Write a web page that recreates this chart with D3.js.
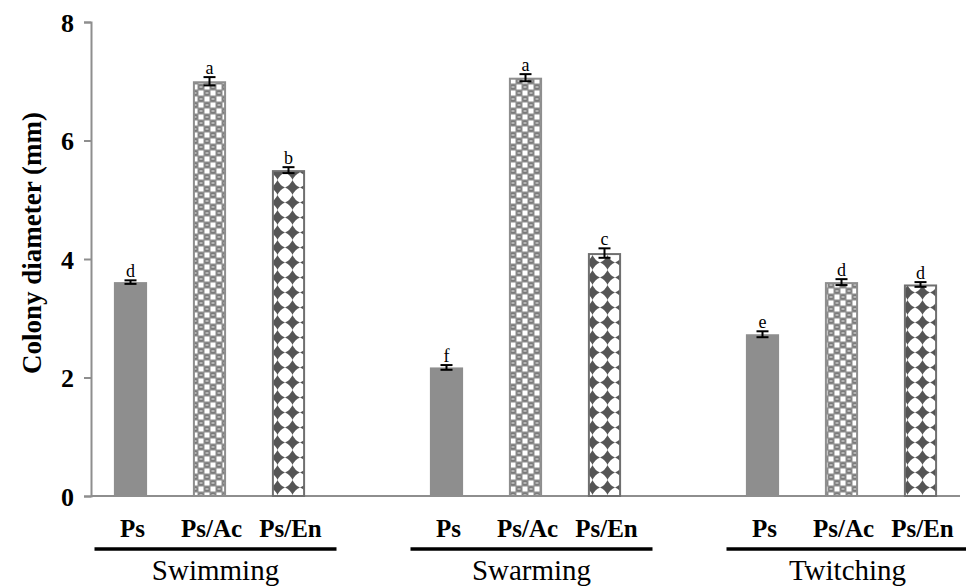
<html>
<head>
<script src="https://d3js.org/d3.v7.min.js"></script>
<style>
  body { margin: 0; background: #fff; }
  text { font-family: "Liberation Serif", "Times New Roman", serif; }
</style>
</head>
<body>
<svg id="chart" width="966" height="587"></svg>
<script>
// data
const groups = ["Swimming", "Swarming", "Twitching"];
const treatments = ["Ps", "Ps/Ac", "Ps/En"];
const means = [
  [3.61, 7.00, 5.50],
  [2.17, 7.06, 4.10],
  [2.73, 3.61, 3.57]
];
const errors = [
  [0.03, 0.07, 0.05],
  [0.04, 0.06, 0.08],
  [0.05, 0.05, 0.04]
];
const letters = [
  ["d", "a", "b"],
  ["f", "a", "c"],
  ["e", "d", "d"]
];
const yTicks = [0, 2, 4, 6, 8];

const svg = d3.select("svg#chart");
const margin = { top: 22, left: 91, right: 6, bottom: 91 };
const width = +svg.attr("width");
const height = +svg.attr("height");

// slots: 3 bars per group plus an empty slot between groups
let slots = [];
groups.forEach((g, gi) => {
  treatments.forEach(t => slots.push(g + "|" + t));
  if (gi < groups.length - 1) slots.push("gap" + gi);
});

const x = d3.scaleBand()
  .domain(slots)
  .range([margin.left, width - margin.right])
  .paddingInner(0.58)
  .paddingOuter(0.29);

const y = d3.scaleLinear()
  .domain([0, 8])
  .range([height - margin.bottom, margin.top]);

// patterns
const defs = svg.append("defs");

const pAc = defs.append("pattern")
  .attr("id", "pat-ac")
  .attr("patternUnits", "userSpaceOnUse")
  .attr("width", 12).attr("height", 12);
pAc.append("rect").attr("width", 12).attr("height", 12).attr("fill", "#8e8e8e");
pAc.append("rect").attr("x", 0.5).attr("y", 0.5).attr("width", 5).attr("height", 5).attr("fill", "#fff");
pAc.append("rect").attr("x", 6.5).attr("y", 6.5).attr("width", 5).attr("height", 5).attr("fill", "#fff");
pAc.append("circle").attr("cx", 9).attr("cy", 3).attr("r", 2.6).attr("fill", "#7a7a7a");
pAc.append("circle").attr("cx", 3).attr("cy", 9).attr("r", 2.6).attr("fill", "#7a7a7a");
pAc.append("rect").attr("x", 7.5).attr("y", 2.5).attr("width", 3).attr("height", 1).attr("fill", "#eee");
pAc.append("rect").attr("x", 1.5).attr("y", 8.5).attr("width", 3).attr("height", 1).attr("fill", "#eee");

const pEn = defs.append("pattern")
  .attr("id", "pat-en")
  .attr("patternUnits", "userSpaceOnUse")
  .attr("width", 15).attr("height", 15);
pEn.append("rect").attr("width", 15).attr("height", 15).attr("fill", "#fff");
const star = (cx, cy, r) => {
  const k = r * 0.3;
  return `M${cx},${cy - r} Q${cx + k},${cy - k} ${cx + r},${cy} Q${cx + k},${cy + k} ${cx},${cy + r} Q${cx - k},${cy + k} ${cx - r},${cy} Q${cx - k},${cy - k} ${cx},${cy - r}Z`;
};
pEn.append("path").attr("d", star(7.5, 7.5, 7.5)).attr("fill", "#555");

const fills = ["#8e8e8e", "url(#pat-ac)", "url(#pat-en)"];
const strokes = ["#8e8e8e", "#8e8e8e", "#6f6f6f"];

// axes
const yAxis = d3.axisLeft(y).tickValues(yTicks).tickSize(7).tickFormat(d3.format("d"));
const gy = svg.append("g")
  .attr("transform", `translate(${margin.left},0)`)
  .call(yAxis);
gy.select(".domain").attr("stroke", "#8e8e8e").attr("stroke-width", 2);
gy.selectAll(".tick line").attr("stroke", "#8e8e8e").attr("stroke-width", 2);
gy.selectAll(".tick text")
  .attr("x", -17)
  .attr("dy", "0.35em")
  .style("font-family", "'Liberation Serif', serif")
  .style("font-size", "26px")
  .style("font-weight", "bold")
  .attr("fill", "#000");

svg.append("line")
  .attr("x1", margin.left).attr("x2", width - margin.right + 0)
  .attr("y1", y(0)).attr("y2", y(0))
  .attr("stroke", "#8e8e8e").attr("stroke-width", 2);

svg.append("text")
  .attr("transform", `translate(41,243) rotate(-90)`)
  .attr("text-anchor", "middle")
  .style("font-size", "27px")
  .style("font-weight", "bold")
  .text("Colony diameter (mm)");

// bars
const bars = svg.append("g");
groups.forEach((g, gi) => {
  treatments.forEach((t, ti) => {
    const key = g + "|" + t;
    const v = means[gi][ti];
    const e = errors[gi][ti];
    const cx = x(key) + x.bandwidth() / 2;
    bars.append("rect")
      .attr("x", x(key) + 1)
      .attr("y", y(v) + 1)
      .attr("width", x.bandwidth() - 2)
      .attr("height", y(0) - y(v) - 1)
      .attr("fill", fills[ti])
      .attr("stroke", strokes[ti])
      .attr("stroke-width", 2);
    // error bar
    const eb = bars.append("g").attr("stroke", "#000").attr("stroke-width", 2);
    eb.append("line").attr("x1", cx).attr("x2", cx).attr("y1", y(v + e)).attr("y2", y(v - e));
    eb.append("line").attr("x1", cx - 6).attr("x2", cx + 6).attr("y1", y(v + e)).attr("y2", y(v + e));
    eb.append("line").attr("x1", cx - 6).attr("x2", cx + 6).attr("y1", y(v - e)).attr("y2", y(v - e));
    bars.append("text")
      .attr("x", cx)
      .attr("y", y(v + e) - 3)
      .attr("text-anchor", "middle")
      .style("font-size", "18px")
      .text(letters[gi][ti]);
    // category label
    svg.append("text")
      .attr("x", cx + 2)
      .attr("y", 537)
      .attr("text-anchor", "middle")
      .style("font-size", "25px")
      .style("font-weight", "bold")
      .text(t);
  });
  // group underline and name
  const x0 = x(g + "|" + treatments[0]) + x.bandwidth() / 2 - 36;
  const x1 = x(g + "|" + treatments[2]) + x.bandwidth() / 2 + 48;
  svg.append("line")
    .attr("x1", x0).attr("x2", x1)
    .attr("y1", 549).attr("y2", 549)
    .attr("stroke", "#000").attr("stroke-width", 3.5);
  svg.append("text")
    .attr("x", (x0 + x1) / 2)
    .attr("y", 580)
    .attr("text-anchor", "middle")
    .style("font-size", "29px")
    .text(g);
});
</script>
</body>
</html>
